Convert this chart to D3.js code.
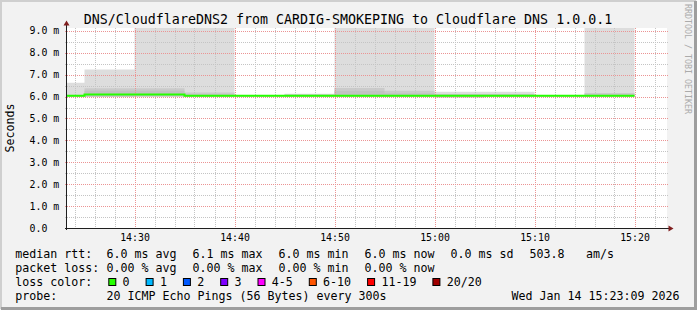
<!DOCTYPE html>
<html>
<head>
<meta charset="utf-8">
<script src="https://cdn.jsdelivr.net/npm/d3@7"></script>
<style>
  html, body { margin: 0; padding: 0; background: #f2f2f2; }
  svg { display: block; font-family: "DejaVu Sans Mono", monospace; }
</style>
</head>
<body>
<svg id="chart" width="697" height="310"></svg>
<script>
(function () {
  "use strict";

  // 5 minute steps (end time of each step), rtt in ms
  const stepEnds  = ["14:25", "14:30", "14:35", "14:40", "14:45", "14:50",
                     "14:55", "15:00", "15:05", "15:10", "15:15", "15:20"];
  const medianRtt = [6.04, 6.09, 6.09, 6.04, 6.04, 6.04, 6.04, 6.04, 6.04, 6.04, 6.04, 6.04];
  const maxRtt    = [6.63, 7.23, 14.2, 11.8, 6.07, 6.13, 12.5, 10.9, 6.22, 6.22, 6.07, 13.1];
  const p19Rtt    = [6.07, 6.38, 6.38, 6.18, 6.05, 6.10, 6.39, 6.26, 6.12, 6.12, 6.05, 6.16];
  const p18Rtt    = [6.05, 6.27, 6.27, 6.10, 6.05, 6.07, 6.25, 6.15, 6.08, 6.08, 6.05, 6.10];
  const minRtt    = [5.99, 5.99, 6.00, 5.99, 6.00, 5.99, 5.99, 5.99, 5.97, 5.99, 6.00, 5.99];

  const yTickLabels = ["0.0", "1.0 m", "2.0 m", "3.0 m", "4.0 m", "5.0 m", "6.0 m", "7.0 m", "8.0 m", "9.0 m"];

  const title = "DNS/CloudflareDNS2 from CARDIG-SMOKEPING to Cloudflare DNS 1.0.0.1";
  const rttCols  = ["6.0 ms avg", "6.1 ms max", "6.0 ms min", "6.0 ms now", "0.0 ms sd"];
  const lossCols = ["0.00 % avg", "0.00 % max", "0.00 % min", "0.00 % now"];
  const lossLabels = ["0", "1", "2", "3", "4-5", "6-10", "11-19", "20/20"];
  const lossColors = ["#26ff00", "#00b8ff", "#0059ff", "#7e00ff", "#ff00ff", "#ff5500", "#ff0000", "#a10000"];
  const probeText = "20 ICMP Echo Pings (56 Bytes) every 300s";
  const stampText = "Wed Jan 14 15:23:09 2026";

  const T = s => { const [h, m] = s.split(":").map(Number); return new Date(2026, 0, 14, h, m, 0); };
  const ends = stepEnds.map(T);
  const tStart = new Date(2026, 0, 14, 14, 23, 15);
  const tEnd   = new Date(2026, 0, 14, 15, 23, 15);

  const L = 67, R = 667, TOP = 28, BOT = 228;
  const x = d3.scaleTime().domain([tStart, tEnd]).range([L, R]);
  const y = d3.scaleLinear().domain([0, 9.13]).range([BOT, TOP]);

  const svg = d3.select("#chart");

  // frame
  svg.append("rect").attr("width", 697).attr("height", 310).attr("fill", "#f2f2f2");
  svg.append("path").attr("d", "M1,309V1H696").attr("fill", "none")
    .attr("stroke", "#cfcfcf").attr("stroke-width", 2);
  svg.append("path").attr("d", "M1,308.5H695.5V1").attr("fill", "none")
    .attr("stroke", "#9e9e9e").attr("stroke-width", 3);

  svg.append("rect").attr("x", L).attr("y", TOP).attr("width", R - L).attr("height", BOT - TOP)
    .attr("fill", "#ffffff");

  svg.append("clipPath").attr("id", "clip")
    .append("rect").attr("x", L).attr("y", TOP).attr("width", R - L).attr("height", BOT - TOP);

  // step rows
  const rows = ends.map((e, i) => ({
    t: d3.timeMinute.offset(e, -5),
    med: medianRtt[i], max: maxRtt[i], p19: p19Rtt[i], p18: p18Rtt[i], min: minRtt[i]
  }));
  rows.push({ ...rows[rows.length - 1], t: ends[ends.length - 1] });

  const plot = svg.append("g").attr("clip-path", "url(#clip)");
  const band = (hi, col) => plot.append("path").datum(rows)
    .attr("fill", col)
    .attr("d", d3.area().curve(d3.curveStepAfter)
      .x(d => x(d.t)).y0(d => y(d.min)).y1(d => y(d[hi])));
  band("max", "#dddddd");
  band("p19", "#cacaca");
  band("p18", "#c2c2c2");

  // grid
  const grid = svg.append("g");
  const minorY = d3.range(1, 19).map(v => v / 2).filter(v => v % 1 !== 0);
  const majorY = d3.range(1, 10);
  const minorX = d3.timeMinute.every(2).range(tStart, tEnd).filter(d => d.getMinutes() % 10 !== 0);
  const majorX = d3.timeMinute.every(10).range(tStart, tEnd);
  const py = v => Math.round(y(v)) + 0.5;
  const px = d => Math.round(x(d)) + 0.5;

  grid.selectAll(".gy").data(minorY).join("line")
    .attr("x1", L - 2).attr("x2", R + 2).attr("y1", py).attr("y2", py)
    .attr("stroke", "#c4c4c4").attr("stroke-dasharray", "1,1");
  grid.selectAll(".gx").data(minorX).join("line")
    .attr("y1", TOP).attr("y2", BOT + 2).attr("x1", px).attr("x2", px)
    .attr("stroke", "#c4c4c4").attr("stroke-dasharray", "1,1");
  grid.selectAll(".my").data(majorY).join("line")
    .attr("x1", L - 2).attr("x2", R + 2).attr("y1", py).attr("y2", py)
    .attr("stroke", "#eb9494").attr("stroke-dasharray", "1,1");
  grid.selectAll(".mx").data(majorX).join("line")
    .attr("y1", TOP).attr("y2", BOT + 2).attr("x1", px).attr("x2", px)
    .attr("stroke", "#eb9494").attr("stroke-dasharray", "1,1");

  // median line
  svg.append("path").datum(rows)
    .attr("clip-path", "url(#clip)")
    .attr("fill", "none").attr("stroke", lossColors[0]).attr("stroke-width", 2)
    .attr("d", d3.line().curve(d3.curveStepAfter).x(d => x(d.t)).y(d => y(d.med)));

  // axes
  svg.append("line").attr("x1", L - 0.5).attr("x2", L - 0.5).attr("y1", BOT + 2).attr("y2", 25)
    .attr("stroke", "#1f1f1f");
  svg.append("line").attr("x1", L - 2).attr("x2", 669).attr("y1", BOT + 0.5).attr("y2", BOT + 0.5)
    .attr("stroke", "#1f1f1f");
  svg.append("path").attr("d", `M${L - 3.5},25.5L${L - 0.5},20.5L${L + 2.5},25.5Z`).attr("fill", "#801f1f");
  svg.append("path").attr("d", `M668.5,${BOT - 2.5}L673.5,${BOT + 0.5}L668.5,${BOT + 3.5}Z`).attr("fill", "#801f1f");

  // x labels
  const xAxis = svg.append("g").attr("transform", `translate(0,${BOT})`)
    .call(d3.axisBottom(x).tickValues(majorX.filter(d => +d > +tStart + 60000))
      .tickFormat(d3.timeFormat("%H:%M")).tickSize(0).tickPadding(0));
  xAxis.select(".domain").remove();
  xAxis.selectAll("text").attr("y", 13.3).attr("dy", null)
    .attr("font-family", "DejaVu Sans Mono").attr("font-size", 9.9).attr("fill", "#000");

  // y labels
  svg.append("g").selectAll("text").data(yTickLabels).join("text")
    .attr("x", 29.5).attr("y", (d, i) => y(i) + 3.6)
    .attr("font-size", 9.9).attr("fill", "#000")
    .text(d => d);

  // titles
  svg.append("text").attr("x", 348).attr("y", 24).attr("text-anchor", "middle")
    .attr("font-size", 13.3).attr("fill", "#000").text(title);
  svg.append("text").attr("transform", `translate(14,${(TOP + BOT) / 2}) rotate(-90)`)
    .attr("text-anchor", "middle").attr("font-size", 11.6).attr("fill", "#000").text("Seconds");
  svg.append("text").attr("transform", "translate(685,4) rotate(90)")
    .attr("font-size", 8.3).attr("fill", "#ababab").text("RRDTOOL / TOBI OETIKER");

  // legend
  const cw = 7, lx = 15.3, col0 = 106.6, colStep = 86;
  const leg = svg.append("g").attr("font-size", 11.63).attr("fill", "#000");
  const rowY = [258, 272, 286, 300];

  leg.append("text").attr("x", lx).attr("y", rowY[0]).text("median rtt:");
  leg.selectAll(".r1").data(rttCols).join("text")
    .attr("x", (d, i) => col0 + i * colStep).attr("y", rowY[0]).text(d => d);
  const sdEnd = col0 + 4 * colStep + rttCols[4].length * cw;
  leg.append("text").attr("x", sdEnd + 16).attr("y", rowY[0]).text("503.8");
  leg.append("text").attr("x", sdEnd + 16 + 5 * cw + 21.4).attr("y", rowY[0]).text("am/s");

  leg.append("text").attr("x", lx).attr("y", rowY[1]).text("packet loss:");
  leg.selectAll(".r2").data(lossCols).join("text")
    .attr("x", (d, i) => col0 + i * colStep).attr("y", rowY[1]).text(d => d);

  leg.append("text").attr("x", lx).attr("y", rowY[2]).text("loss color:");
  let sx = 108.3;
  lossLabels.forEach((lab, i) => {
    leg.append("rect").attr("x", sx + 0.5).attr("y", rowY[2] - 7.5).attr("width", 7).attr("height", 7)
      .attr("fill", lossColors[i]).attr("stroke", "#000").attr("stroke-width", 1);
    leg.append("text").attr("x", sx + 14.3).attr("y", rowY[2]).text(lab);
    sx = sx + 15 + lab.length * cw + 15.3;
  });

  leg.append("text").attr("x", lx).attr("y", rowY[3]).text("probe:");
  leg.append("text").attr("x", col0).attr("y", rowY[3]).text(probeText);
  leg.append("text").attr("x", 511.6).attr("y", rowY[3]).text(stampText);
})();
</script>
</body>
</html>
